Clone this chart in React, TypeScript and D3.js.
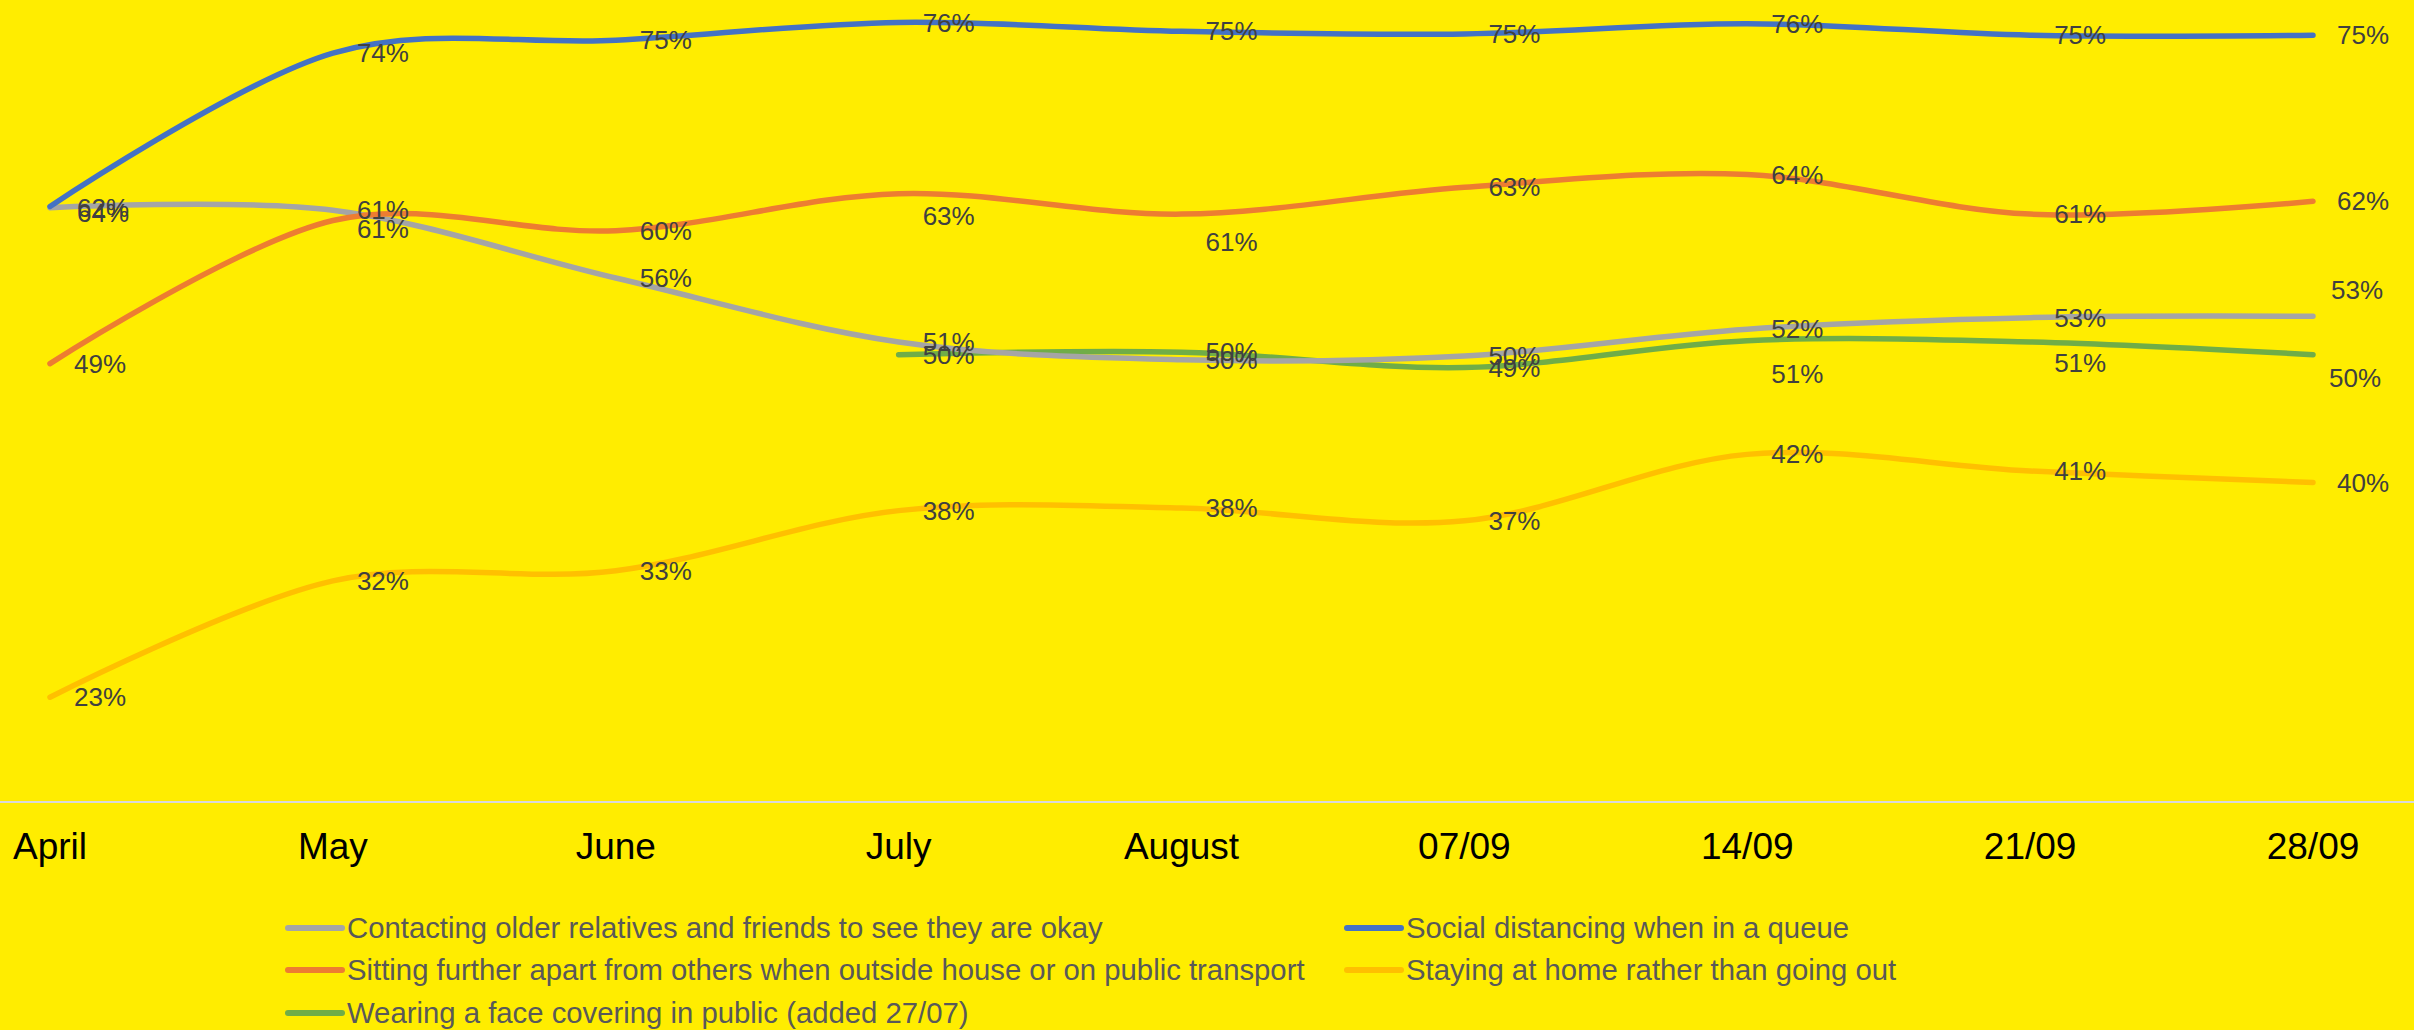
import React from "react";
import * as d3 from "d3";

const categories = ["April", "May", "June", "July", "August", "07/09", "14/09", "21/09", "28/09"];

const contacting = [61.5, 61.3, 56, 51, 49.6, 49.9, 52, 52.9, 53];
const socialDistancing = [61.6, 73.6, 74.6, 76, 75.3, 75.1, 75.9, 75, 75];
const sittingApart = [49.3, 60.5, 59.7, 62.6, 61, 63.1, 64.1, 61, 62];
const stayingHome = [23.2, 32.3, 33.1, 37.8, 38, 37, 42.2, 40.9, 40];
const faceCovering: (number | null)[] = [null, null, null, 50, 50.2, 49, 51.1, 51, 50];

const labelTextOverrides: Record<string, number> = { "contacting-0": 64 };

const seriesList = [
  { key: "contacting", name: "Contacting older relatives and friends to see they are okay", values: contacting, color: "#A5A5A5" },
  { key: "social", name: "Social distancing when in a queue", values: socialDistancing, color: "#4472C4" },
  { key: "sitting", name: "Sitting further apart from others when outside house or on public transport", values: sittingApart, color: "#ED7D31" },
  { key: "staying", name: "Staying at home rather than going out", values: stayingHome, color: "#FFC000" },
  { key: "face", name: "Wearing a face covering in public (added 27/07)", values: faceCovering, color: "#70AD47" },
];

// draw order (back to front)
const drawOrder = ["staying", "face", "contacting", "sitting", "social"];

// manual label nudges (layout only)
const labelNudge: Record<string, [number, number]> = {
  "sitting-1": [0, 8],
  "sitting-3": [0, 22],
  "sitting-4": [0, 28],
  "face-6": [0, 33],
  "face-7": [0, 21],
  "contacting-8": [-6, -26],
  "face-8": [-8, 23],
  "contacting-0": [3, 5],
  "social-0": [3, 1],
};

const W = 2414;
const H = 1030;

export default function App() {
  const x = d3.scalePoint<string>().domain(categories).range([50, 2313]);
  const y = d3.scaleLinear().domain([15, 80]).range([802, 802 - 65 * 12.78]);

  const line = d3
    .line<number | null>()
    .defined((d) => d !== null)
    .x((_, i) => x(categories[i]) as number)
    .y((d) => y(d as number))
    .curve(d3.curveCardinal.tension(0));

  const ordered = drawOrder.map((k) => seriesList.find((s) => s.key === k)!);

  const legendRows = [
    [seriesList[0], seriesList[1]],
    [seriesList[2], seriesList[3]],
    [seriesList[4]],
  ];
  const legendColX = [288, 1347];
  const legendRowY = [928, 970, 1013];
  const legendFs = 29.3;

  const labelFs = 26;

  return (
    <svg
      width={W}
      height={H}
      style={{ position: "absolute", left: 0, top: 0, display: "block" }}
      fontFamily="'Liberation Sans', Arial, sans-serif"
    >
      <rect x={0} y={0} width={W} height={H} fill="#FFED00" />

      {/* category axis line */}
      <line x1={0} x2={W} y1={802} y2={802} stroke="#D9D9D9" strokeWidth={2} />

      {categories.map((c) => (
        <text key={c} x={x(c)} y={859} textAnchor="middle" fontSize={37} fill="#000000">
          {c}
        </text>
      ))}

      {ordered.map((s) => (
        <path
          key={s.key}
          d={line(s.values as (number | null)[]) || ""}
          fill="none"
          stroke={s.color}
          strokeWidth={5.5}
          strokeLinecap="round"
          strokeLinejoin="round"
        />
      ))}

      {ordered.map((s) =>
        (s.values as (number | null)[]).map((v, i) => {
          if (v === null) return null;
          const id = `${s.key}-${i}`;
          const nudge = labelNudge[id] || [0, 0];
          const txt = labelTextOverrides[id] !== undefined ? labelTextOverrides[id] : Math.round(v);
          return (
            <text
              key={id}
              x={(x(categories[i]) as number) + 24 + nudge[0]}
              y={y(v) + nudge[1] + labelFs * 0.35}
              fontSize={labelFs}
              fill="#404040"
            >
              {txt}%
            </text>
          );
        })
      )}

      {legendRows.map((row, r) =>
        row.map((s, c) => (
          <g key={s.key}>
            <line
              x1={legendColX[c]}
              x2={legendColX[c] + 54}
              y1={legendRowY[r]}
              y2={legendRowY[r]}
              stroke={s.color}
              strokeWidth={6}
              strokeLinecap="round"
            />
            <text x={legendColX[c] + 59} y={legendRowY[r] + legendFs * 0.35} fontSize={legendFs} fill="#595959">
              {s.name}
            </text>
          </g>
        ))
      )}
    </svg>
  );
}
